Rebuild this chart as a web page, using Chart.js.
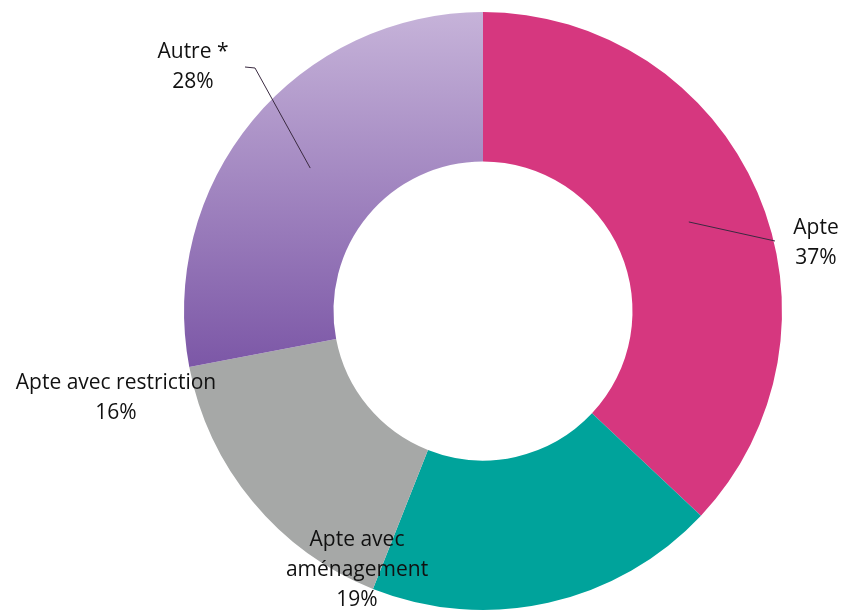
<!DOCTYPE html>
<html>
<head>
<meta charset="utf-8">
<script src="https://cdn.jsdelivr.net/npm/chart.js@4.4.1/dist/chart.umd.min.js"></script>
<style>
  html, body { margin: 0; padding: 0; background: #fff; }
  #wrap { width: 844px; height: 611px; }
</style>
</head>
<body>
<div id="wrap"><canvas id="donut" width="844" height="611"></canvas></div>
<script>
var categories = ['Apte', 'Apte avec aménagement', 'Apte avec restriction', 'Autre *'];
var percents = [37, 19, 16, 28];
var labelLines = [['Apte', '37%'], ['Apte avec', 'aménagement', '19%'], ['Apte avec restriction', '16%'], ['Autre *', '28%']];
var sliceColors = ['#D6377F', '#00A39B', '#A6A8A7', null]; // null = purple gradient

// label placement (text centre x, first line y) and leader line elbow points
var labelLayout = [
    { x: 816, y: 228, leader: [[775, 241]] },
    { x: 357, y: 540, leader: null },
    { x: 116, y: 383, leader: null },
    { x: 193, y: 52, leader: [[255, 68], [245, 67]] }
];

function sliceColor(context) {
    var c = sliceColors[context.dataIndex];
    if (c) return c;
    var chart = context.chart;
    var area = chart.chartArea;
    if (!area) return '#A58BC4';
    var g = chart.ctx.createLinearGradient(0, area.top, 0, area.top + (area.bottom - area.top) * 0.6);
    g.addColorStop(0, '#C6B3D9');
    g.addColorStop(1, '#7B56A6');
    return g;
}

var labelPlugin = {
    id: 'donutLabels',
    afterDraw: function(chart) {
        var ctx = chart.ctx;
        var meta = chart.getDatasetMeta(0);
        ctx.save();
        meta.data.forEach(function(arc, i) {
            var lay = labelLayout[i];
            if (lay.leader) {
                var p = arc.tooltipPosition();
                ctx.beginPath();
                ctx.moveTo(p.x, p.y);
                lay.leader.forEach(function(pt) { ctx.lineTo(pt[0], pt[1]); });
                ctx.strokeStyle = '#3a2a40';
                ctx.lineWidth = 1;
                ctx.stroke();
            }
            ctx.fillStyle = '#111';
            ctx.font = '21px "Open Sans", Lato, sans-serif';
            ctx.textAlign = 'center';
            ctx.textBaseline = 'middle';
            labelLines[i].forEach(function(t, k) {
                ctx.fillText(t, lay.x, lay.y + k * 30);
            });
        });
        ctx.restore();
    }
};

var ctx = document.getElementById('donut').getContext('2d');
var donut = new Chart(ctx, {
    type: 'doughnut',
    data: {
        labels: categories,
        datasets: [{
            data: percents,
            backgroundColor: sliceColor,
            borderWidth: 0
        }]
    },
    options: {
        responsive: false,
        animation: false,
        cutout: '50%',
        layout: { padding: { left: 184, right: 62, top: 12, bottom: 1 } },
        plugins: {
            legend: { display: false },
            tooltip: { enabled: false }
        }
    },
    plugins: [labelPlugin]
});
</script>
</body>
</html>
